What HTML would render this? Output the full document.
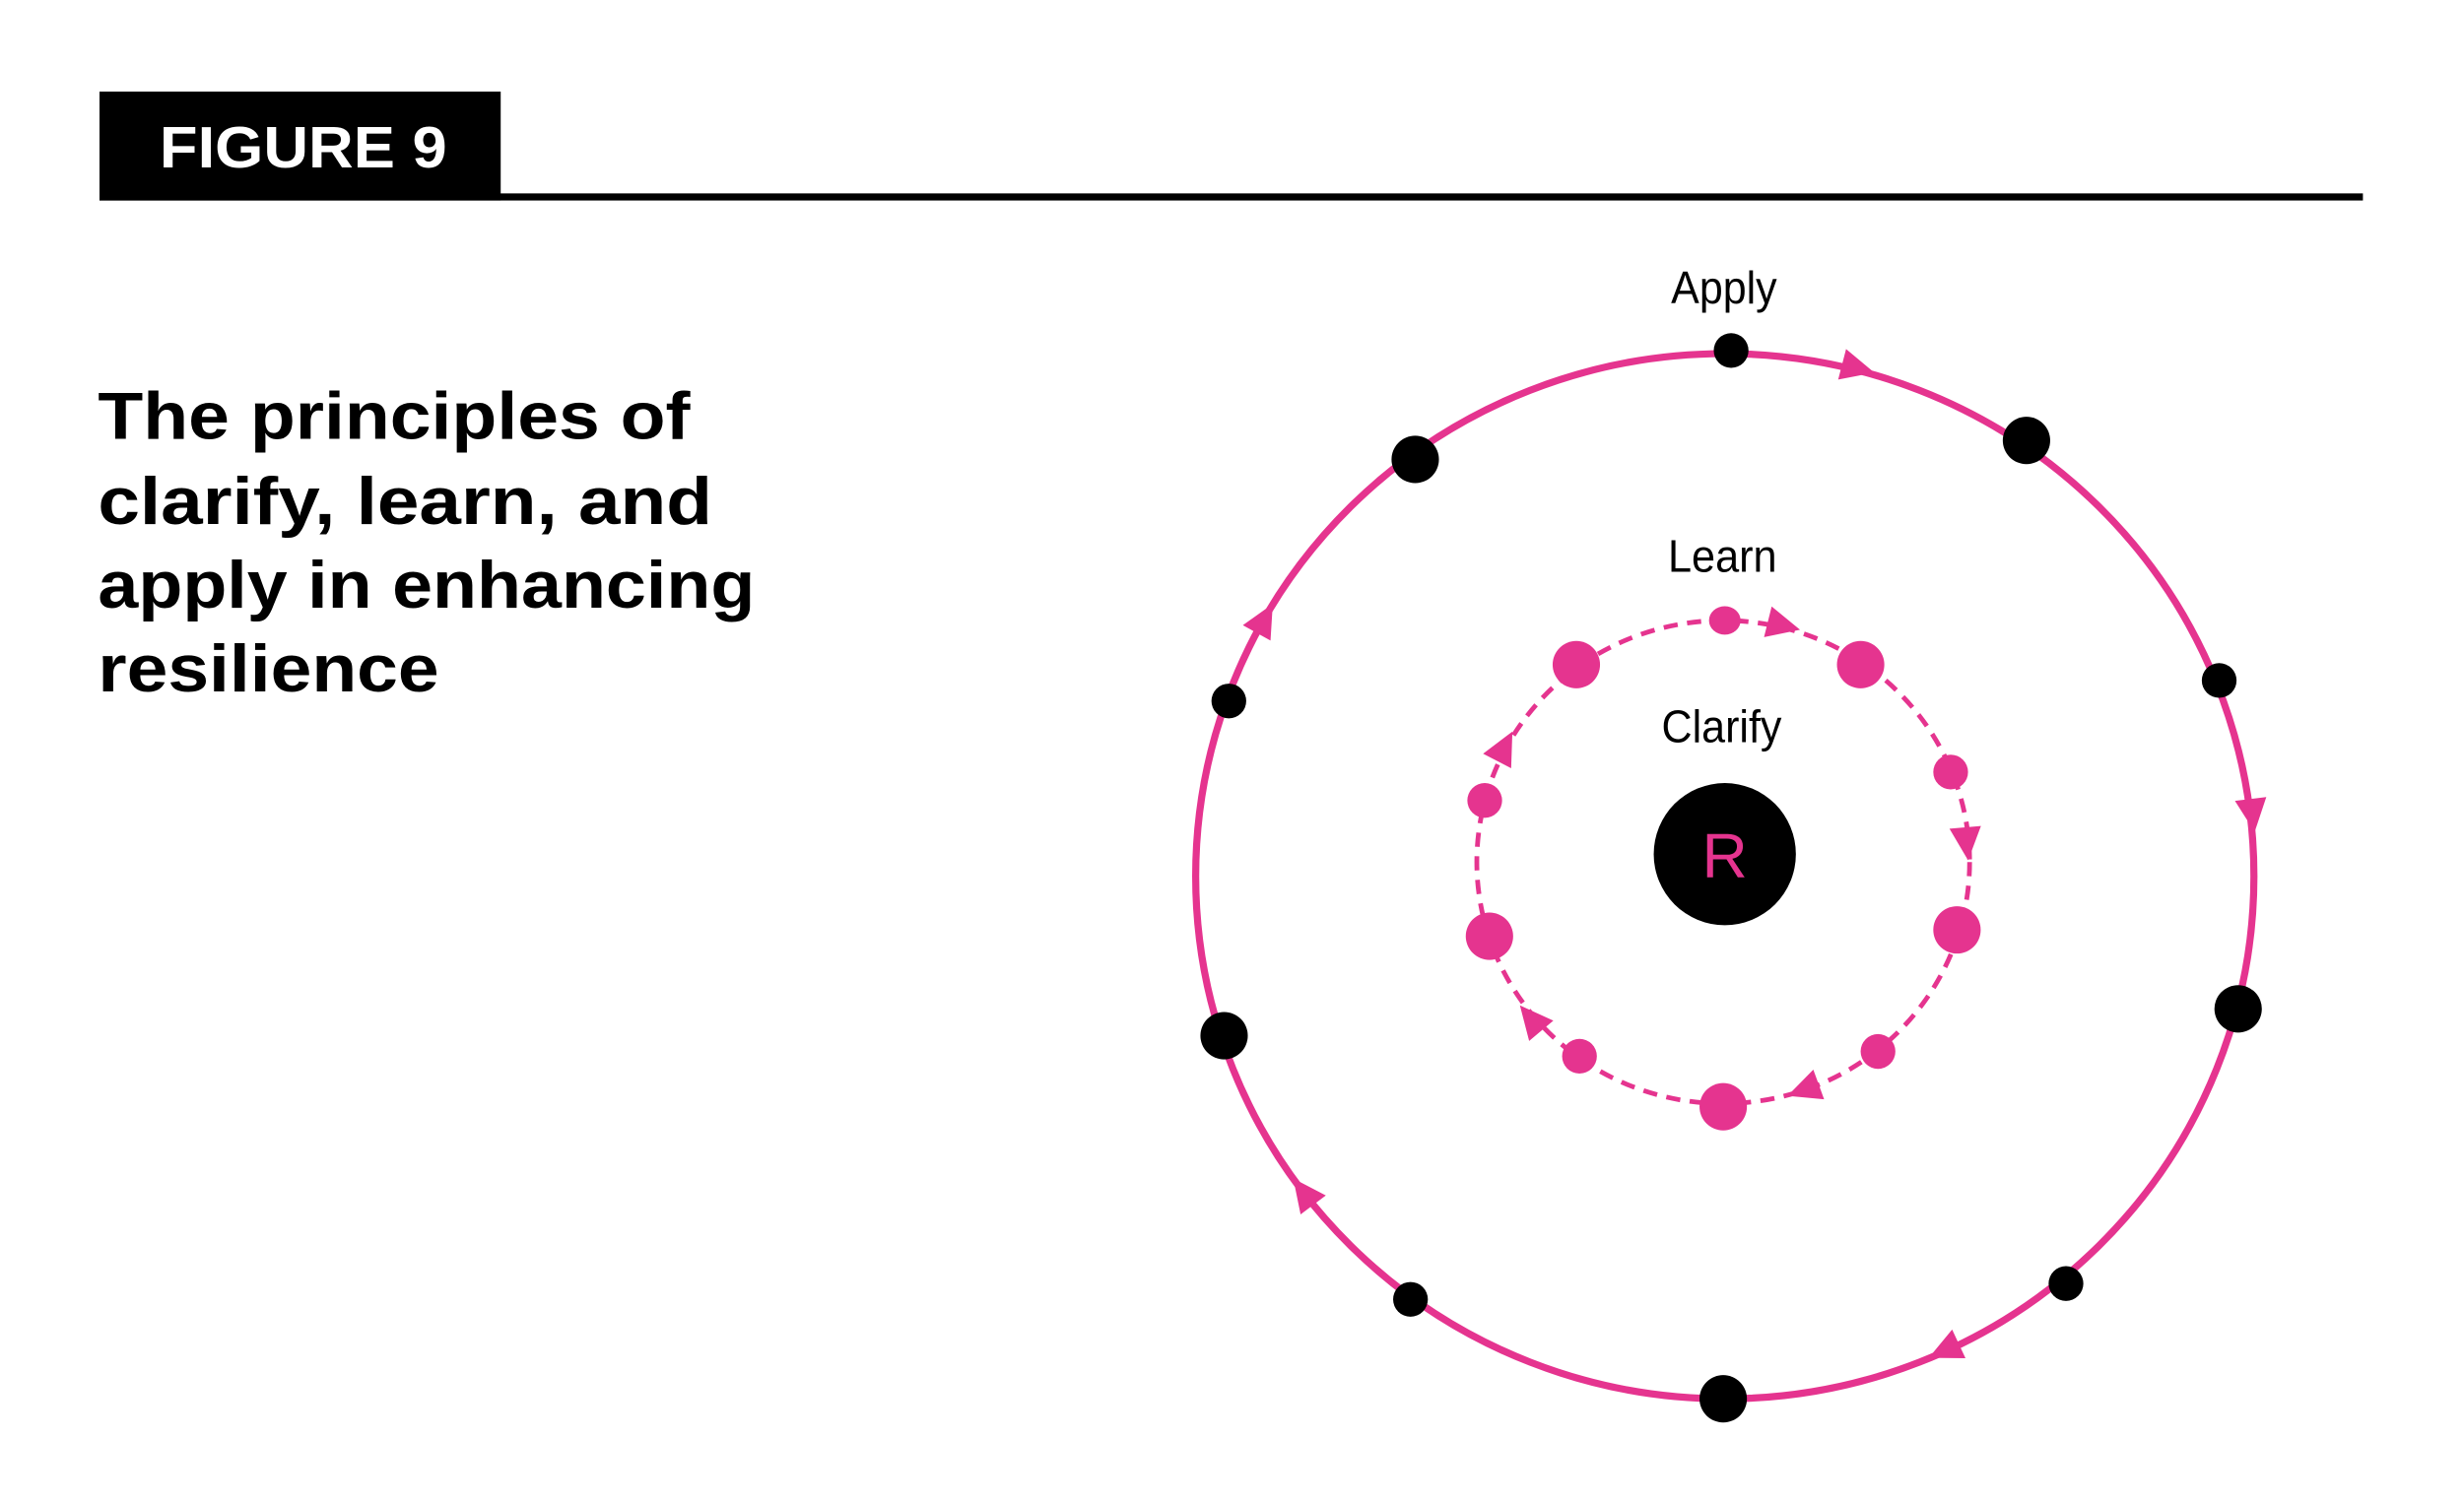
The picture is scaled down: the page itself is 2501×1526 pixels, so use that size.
<!DOCTYPE html>
<html><head><meta charset="utf-8"><style>
html,body{margin:0;padding:0;background:#fff;}
svg{display:block;}
</style></head><body>
<svg width="2501" height="1526" viewBox="0 0 1560 952" preserveAspectRatio="none" xmlns="http://www.w3.org/2000/svg">
<rect width="1560" height="952" fill="#fff"/>
<rect x="63" y="58" width="254" height="69" fill="#000"/>
<rect x="63" y="122.5" width="1433" height="4.5" fill="#000"/>
<text x="101" y="106" font-family="Liberation Sans, sans-serif" font-weight="bold" font-size="37" fill="#fff" textLength="182" lengthAdjust="spacingAndGlyphs">FIGURE 9</text>
<g font-family="Liberation Sans, sans-serif" font-weight="bold" font-size="42" fill="#000" lengthAdjust="spacingAndGlyphs">
<text x="62" y="278" textLength="375" lengthAdjust="spacingAndGlyphs">The principles of</text>
<text x="62" y="332" textLength="389" lengthAdjust="spacingAndGlyphs">clarify, learn, and</text>
<text x="62" y="385" textLength="416" lengthAdjust="spacingAndGlyphs">apply in enhancing</text>
<text x="62" y="438" textLength="216" lengthAdjust="spacingAndGlyphs">resilience</text>
</g>
<g font-family="Liberation Sans Narrow, Liberation Sans, sans-serif" font-size="29" fill="#000">
<text x="1058" y="192" textLength="67" lengthAdjust="spacingAndGlyphs">Apply</text>
<text x="1056" y="362" textLength="69" lengthAdjust="spacingAndGlyphs">Learn</text>
<text x="1052" y="470" textLength="76" lengthAdjust="spacingAndGlyphs">Clarify</text>
</g>
<ellipse cx="1092" cy="555" rx="335" ry="331" fill="none" stroke="#e5348f" stroke-width="4.5"/>
<ellipse cx="1091" cy="546" rx="156" ry="153" fill="none" stroke="#e5348f" stroke-width="3" stroke-dasharray="9,6"/>
<circle cx="1092" cy="541" r="45" fill="#000"/>
<text x="1092" y="556" font-family="Liberation Sans Narrow, Liberation Sans, sans-serif" font-size="40" fill="#e5348f" text-anchor="middle">R</text>
<g fill="#000">
<ellipse cx="1096" cy="222" rx="11" ry="11"/>
<ellipse cx="1283" cy="279" rx="15" ry="15"/>
<ellipse cx="1405" cy="431" rx="11" ry="11"/>
<ellipse cx="1417" cy="639" rx="15" ry="15"/>
<ellipse cx="1308" cy="813" rx="11" ry="11"/>
<ellipse cx="1091" cy="886" rx="15" ry="15"/>
<ellipse cx="893" cy="823" rx="11" ry="11"/>
<ellipse cx="775" cy="656" rx="15" ry="15"/>
<ellipse cx="778" cy="444" rx="11" ry="11"/>
<ellipse cx="896" cy="291" rx="15" ry="15"/>
</g>
<g fill="#e5348f">
<polygon points="12,0 -9,-10 -9,10" transform="translate(1175,233) rotate(14.5)"/>
<polygon points="12,0 -9,-10 -9,10" transform="translate(1426,515) rotate(83)"/>
<polygon points="12,0 -9,-10 -9,10" transform="translate(1232,855) rotate(155)"/>
<polygon points="12,0 -9,-10 -9,10" transform="translate(826,756) rotate(233)"/>
<polygon points="12,0 -9,-10 -9,10" transform="translate(800,393) rotate(-61)"/>
<polygon points="12,0 -9,-10 -9,10" transform="translate(1128,396) rotate(14)"/>
<polygon points="12,0 -9,-10 -9,10" transform="translate(1245,533) rotate(85)"/>
<polygon points="12,0 -9,-10 -9,10" transform="translate(1143,690) rotate(160)"/>
<polygon points="12,0 -9,-10 -9,10" transform="translate(970,646) rotate(230)"/>
<polygon points="12,0 -9,-10 -9,10" transform="translate(952,474) rotate(-62.6)"/>
<ellipse cx="1092" cy="393" rx="10" ry="9"/>
<circle cx="998" cy="421" r="15"/>
<circle cx="1178" cy="421" r="15"/>
<circle cx="1235" cy="489" r="11"/>
<circle cx="1239" cy="589" r="15"/>
<circle cx="1189" cy="666" r="11"/>
<circle cx="1091" cy="701" r="15"/>
<circle cx="1000" cy="669" r="11"/>
<circle cx="943" cy="593" r="15"/>
<circle cx="940" cy="507" r="11"/>
</g>
</svg>
</body></html>
